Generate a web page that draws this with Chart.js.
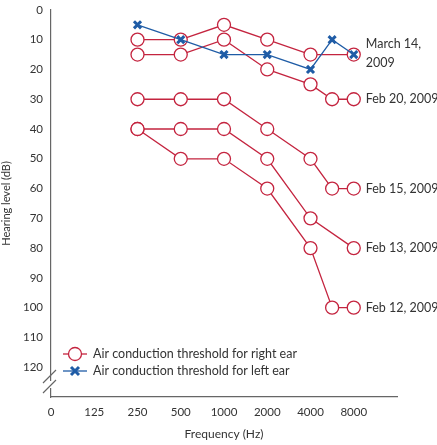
<!DOCTYPE html>
<html>
<head>
<meta charset="utf-8">
<script src="https://cdn.jsdelivr.net/npm/chart.js@4"></script>
<style>
  body { margin: 0; background: #fff; }
  #wrap { width: 437px; height: 445px; }
</style>
</head>
<body>
<div id="wrap"><canvas id="chart"></canvas></div>
<script>
// x positions are category slots: 0,125,250,500,1000,2000,4000,(6000),8000
const freqLabels = ["0", "125", "250", "500", "1000", "2000", "4000", "8000"];
const rightX = [2, 3, 4, 5, 6, 6.5, 7];
const mar14 = [10, 10, 5, 10, 15, null, 15];
const feb20 = [15, 15, 10, 20, 25, 30, 30];
const feb15 = [30, 30, 30, 40, 50, 60, 60];
const feb13 = [40, 40, 40, 50, 70, null, 80];
const feb12 = [40, 50, 50, 60, 80, 100, 100];
const leftEar = [5, 10, 15, 15, 20, 10, 15];
const dateLabels = [
  { text: ["March 14,", "2009"], y: 17 },
  { text: ["Feb 20, 2009"], y: 30 },
  { text: ["Feb 15, 2009"], y: 60 },
  { text: ["Feb 13, 2009"], y: 80 },
  { text: ["Feb 12, 2009"], y: 100 }
];

const red = "#c4243f";
const blue = "#1f5ca6";
const font = "Lato";

function pts(vals) {
  return rightX.map((x, i) => ({ x: x, y: vals[i] })).filter(p => p.y !== null);
}
function redSet(vals) {
  return {
    data: pts(vals), borderColor: red, borderWidth: 1.3,
    pointStyle: "circle", pointRadius: 6.5, pointBorderWidth: 1.3,
    pointBackgroundColor: "#fff", pointBorderColor: red
  };
}

const extras = {
  id: "extras",
  afterDatasetsDraw(chart) {
    const c = chart.ctx, x = chart.scales.x, y = chart.scales.y;
    c.save();
    c.fillStyle = "#333";
    c.font = "12.5px " + font;
    c.textBaseline = "middle";
    dateLabels.forEach(d => {
      const px = x.getPixelForValue(7) + 12;
      const py = y.getPixelForValue(d.y);
      if (d.text.length === 2) {
        c.fillText(d.text[0], px, py - 17);
        c.fillText(d.text[1], px, py + 2);
      } else {
        c.fillText(d.text[0], px, py);
      }
    });
    // legend
    const lx = 63, ly1 = 354, ly2 = 371;
    c.strokeStyle = red; c.lineWidth = 1.3;
    c.beginPath(); c.moveTo(lx, ly1); c.lineTo(lx + 24, ly1); c.stroke();
    c.fillStyle = "#fff";
    c.beginPath(); c.arc(lx + 12, ly1, 6.5, 0, Math.PI * 2); c.fill(); c.stroke();
    c.strokeStyle = blue;
    c.beginPath(); c.moveTo(lx, ly2); c.lineTo(lx + 24, ly2); c.stroke();
    c.lineWidth = 3;
    c.beginPath();
    c.moveTo(lx + 8, ly2 - 4); c.lineTo(lx + 16, ly2 + 4);
    c.moveTo(lx + 16, ly2 - 4); c.lineTo(lx + 8, ly2 + 4);
    c.stroke();
    c.fillStyle = "#333";
    c.fillText("Air conduction threshold for right ear", lx + 30, ly1);
    c.fillText("Air conduction threshold for left ear", lx + 30, ly2);
    // axis break marks
    const ax = x.left;
    c.fillStyle = "#fff";
    c.fillRect(ax - 3, 381, 6, 7);
    c.strokeStyle = "#666"; c.lineWidth = 1.2;
    c.beginPath();
    c.moveTo(ax - 8, 383); c.lineTo(ax + 5, 370);
    c.moveTo(ax - 8, 393); c.lineTo(ax + 5, 380);
    c.stroke();
    c.restore();
  }
};

new Chart(document.getElementById("chart"), {
  type: "line",
  data: {
    datasets: [
      {
        data: pts(leftEar), borderColor: blue, borderWidth: 1.3,
        pointStyle: "crossRot", pointRadius: 5, pointBorderWidth: 3,
        pointBorderColor: blue
      },
      redSet(mar14), redSet(feb20), redSet(feb15), redSet(feb13), redSet(feb12)
    ]
  },
  options: {
    responsive: true,
    maintainAspectRatio: false,
    animation: false,
    layout: { padding: { top: 5, right: 40, left: 0, bottom: 0 } },
    plugins: { legend: { display: false }, tooltip: { enabled: false } },
    scales: {
      x: {
        type: "linear", min: 0, max: 8,
        afterFit: s => { s.height = 48; },
        grid: { display: false, drawTicks: true, tickLength: 5, color: "#666" },
        border: { color: "#666", width: 1.2 },
        ticks: {
          stepSize: 1, color: "#333", font: { family: font, size: 11.5 },
          callback: v => freqLabels[v] || ""
        },
        title: { display: true, text: "Frequency (Hz)", color: "#333", font: { family: font, size: 12 }, padding: { top: 4 } }
      },
      y: {
        reverse: true, min: 0, max: 130,
        afterFit: s => { s.width = 51; },
        grid: { display: false, drawTicks: true, tickLength: 5, color: "#666" },
        border: { color: "#666", width: 1.2 },
        ticks: {
          stepSize: 10, color: "#333", font: { family: font, size: 11.5 },
          callback: v => v <= 120 ? v : ""
        },
        title: { display: true, text: "Hearing level (dB)", color: "#333", font: { family: font, size: 11 }, padding: 0 }
      }
    }
  },
  plugins: [extras]
});
</script>
</body>
</html>
